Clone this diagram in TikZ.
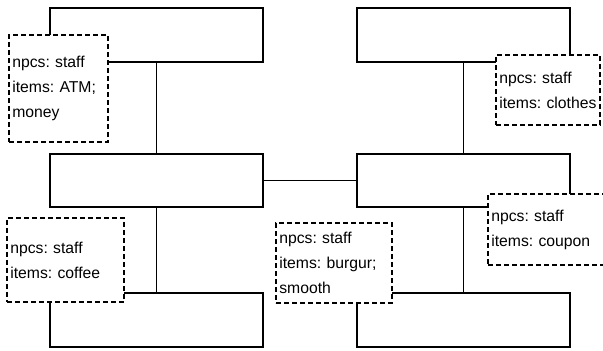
\documentclass[tikz,border=0pt]{standalone}
\usepackage{fontspec}
\setmainfont{Liberation Sans}
\begin{document}
\begin{tikzpicture}[x=0.75pt,y=-0.75pt,
  room/.style={draw=black,line width=1.4pt,fill=white,rectangle,inner sep=0pt,
    minimum width=159.75pt},
  link/.style={draw=black,line width=1.4pt},
  note/.style={draw=black,line width=1.4pt,dash pattern=on 3.4pt off 2.6pt,
    fill=white,rectangle,inner xsep=1pt,inner ysep=0pt,align=left,
    font=\fontsize{11.8}{18.75}\selectfont\frenchspacing}]
\useasboundingbox (0,0) rectangle (603,350);
\clip (0,0) rectangle (603,350);
% rooms
\node[room,minimum height=40.5pt]  (tl) at (156.5,35)  {};
\node[room,minimum height=40.5pt]  (tr) at (463.5,35)  {};
\node[room,minimum height=39.75pt] (ml) at (156.5,180.5) {};
\node[room,minimum height=39.75pt] (mr) at (463.5,180.5) {};
\node[room,minimum height=40.5pt]  (bl) at (156.5,320) {};
\node[room,minimum height=40.5pt]  (br) at (463.5,320) {};
% corridors
\draw[link] (tl.south) -- (ml.north);
\draw[link] (ml.south) -- (bl.north);
\draw[link] (tr.south) -- (mr.north);
\draw[link] (mr.south) -- (br.north);
\draw[link] (ml.east) -- (mr.west);
% room notes
\node[note,minimum width=74.25pt,minimum height=80.25pt,text width=72.25pt] (natm) at (58.5,88.5)
  {\hspace*{1.5pt}npcs: staff\\\hspace*{1.5pt}items: ATM;\\\hspace*{1.5pt}money};
\node[note,minimum width=78pt,minimum height=52.5pt,text width=76pt] (ncloth) at (548,90)
  {\hspace*{1.5pt}npcs: staff\\\hspace*{1.5pt}items: clothes};
\node[note,minimum width=87.75pt,minimum height=63pt,text width=85.75pt] (ncoffee) at (65.5,260)
  {\hspace*{1.5pt}npcs: staff\\\hspace*{1.5pt}items: coffee};
\node[note,minimum width=87pt,minimum height=60pt,text width=85pt] (nburg) at (334,263)
  {\hspace*{1.5pt}npcs: staff\\\hspace*{1.5pt}items: burgur;\\\hspace*{1.5pt}smooth};
\node[note,minimum width=90pt,minimum height=53.25pt,text width=88pt] (ncoup) at (548,229.5)
  {\hspace*{1.5pt}npcs: staff\\\hspace*{1.5pt}items: coupon};
\end{tikzpicture}
\end{document}
